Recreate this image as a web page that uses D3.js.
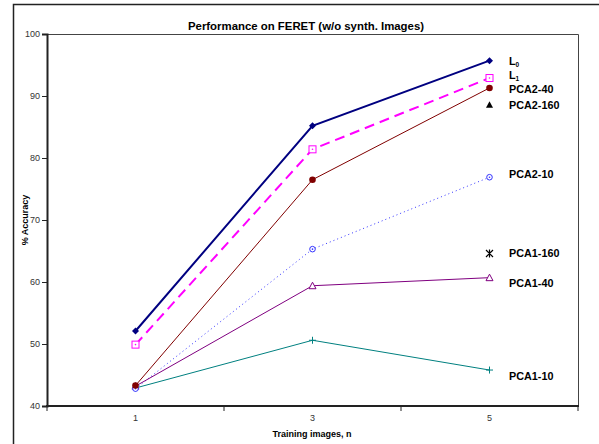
<!DOCTYPE html>
<html>
<head>
<meta charset="utf-8">
<script src="https://cdn.jsdelivr.net/npm/d3@7"></script>
<style>
  body { margin: 0; background: #fff; }
  text { font-family: "Liberation Sans", Arial, sans-serif; }
</style>
</head>
<body>
<svg id="chart" width="599" height="444"></svg>
<script>
// categories on the x axis
var trainingImages = ["1", "3", "5"];
var yTicks = [40, 50, 60, 70, 80, 90, 100];

// series values, null where no point was plotted
var seriesNames = ["L0", "L1", "PCA2-40", "PCA2-160", "PCA2-10", "PCA1-160", "PCA1-40", "PCA1-10"];
var L0      = [52.1, 85.2, 95.7];
var L1      = [49.9, 81.4, 92.9];
var pca2_40 = [43.3, 76.5, 91.3];
var pca2_160 = [null, null, 88.6];
var pca2_10 = [42.8, 65.3, 76.9];
var pca1_160 = [null, null, 64.6];
var pca1_40 = [43.2, 59.4, 60.7];
var pca1_10 = [42.9, 50.6, 45.8];

var allValues = [L0, L1, pca2_40, pca2_160, pca2_10, pca1_160, pca1_40, pca1_10];

// looks
var styles = [
  {color: "#000080", width: 2,   dash: null,   marker: "diamondFill"},
  {color: "#ff00ff", width: 2,   dash: "10,6", marker: "squareOpen"},
  {color: "#800000", width: 1,   dash: null,   marker: "circleFill"},
  {color: "#000000", width: 1,   dash: null,   marker: "triangleFill"},
  {color: "#3333ff", width: 1,   dash: "1,3",  marker: "circleOpen"},
  {color: "#000000", width: 1,   dash: null,   marker: "asterisk"},
  {color: "#800080", width: 1,   dash: null,   marker: "triangleOpen"},
  {color: "#008080", width: 1,   dash: null,   marker: "plus"}
];
var labelDy = [0, -3, 1, 0, -3, 0, 5, 6];

var svg = d3.select("#chart");
var margin = {left: 47, top: 34, right: 578, bottom: 406};

// outer chart border
svg.append("rect")
  .attr("x", 13.5).attr("y", 4.5)
  .attr("width", 620).attr("height", 460)
  .attr("fill", "none").attr("stroke", "#222").attr("stroke-width", 1.5);

var x = d3.scaleBand().domain(trainingImages).range([margin.left, margin.right]);
var y = d3.scaleLinear().domain([40, 100]).range([margin.bottom, margin.top]);
function cx(i) { return x(trainingImages[i]) + x.bandwidth() / 2; }

// plot area top/right border
svg.append("path")
  .attr("d", "M" + margin.left + "," + (margin.top + 0.5) + "H" + (margin.right + 0.5) + "V" + margin.bottom)
  .attr("fill", "none").attr("stroke", "#444").attr("stroke-width", 1);

// y axis
var yAxis = svg.append("g")
  .attr("transform", "translate(" + margin.left + ",0)")
  .call(d3.axisLeft(y).tickValues(yTicks).tickSize(5).tickPadding(2));
yAxis.select(".domain").attr("stroke", "#222").attr("stroke-width", 2);
yAxis.selectAll(".tick line").attr("stroke", "#222");
yAxis.selectAll("text").attr("font-size", 9).attr("fill", "#333").attr("font-family", "Liberation Sans, Arial, sans-serif");

// x axis (category ticks between bands)
var xAxisG = svg.append("g").attr("transform", "translate(0," + margin.bottom + ")");
xAxisG.append("line")
  .attr("x1", margin.left - 1).attr("x2", margin.right + 1)
  .attr("stroke", "#222").attr("stroke-width", 2);
var edges = trainingImages.map(function(d) { return x(d); }).concat([margin.right]);
xAxisG.selectAll(".edge").data(edges).enter().append("line")
  .attr("x1", function(d) { return d; }).attr("x2", function(d) { return d; })
  .attr("y1", 0).attr("y2", 5).attr("stroke", "#222");
xAxisG.selectAll(".lbl").data(trainingImages).enter().append("text")
  .attr("x", function(d) { return x(d) + x.bandwidth() / 2; })
  .attr("y", 15)
  .attr("text-anchor", "middle").attr("font-size", 9).attr("fill", "#333")
  .text(function(d) { return d; });

// titles
svg.append("text").attr("x", 306).attr("y", 30).attr("text-anchor", "middle")
  .attr("font-size", 11.4).attr("font-weight", "bold").text("Performance on FERET (w/o synth. Images)");
svg.append("text").attr("x", 312).attr("y", 437).attr("text-anchor", "middle")
  .attr("font-size", 9).attr("font-weight", "bold").text("Training images, n");
svg.append("text").attr("transform", "translate(28,220) rotate(-90)").attr("text-anchor", "middle")
  .attr("font-size", 9).attr("font-weight", "bold").text("% Accuracy");

// lines
var line = d3.line()
  .defined(function(d) { return d != null; })
  .x(function(d, i) { return cx(i); })
  .y(function(d) { return y(d); });

allValues.forEach(function(vals, s) {
  var st = styles[s];
  if (vals.filter(function(v) { return v != null; }).length > 1) {
    svg.append("path").datum(vals)
      .attr("d", line)
      .attr("fill", "none")
      .attr("stroke", st.color)
      .attr("stroke-width", st.width)
      .attr("stroke-dasharray", st.dash);
  }
});

function drawMarker(g, type, color) {
  if (type === "diamondFill") {
    g.append("path").attr("d", "M0,-3.5L3.5,0L0,3.5L-3.5,0Z").attr("fill", color);
  } else if (type === "squareOpen") {
    g.append("rect").attr("x", -3.5).attr("y", -3.5).attr("width", 7).attr("height", 7)
      .attr("fill", "#fff").attr("stroke", color).attr("stroke-width", 1);
    g.append("circle").attr("r", 0.8).attr("fill", color);
  } else if (type === "circleFill") {
    g.append("circle").attr("r", 3.3).attr("fill", color);
  } else if (type === "triangleFill") {
    g.append("path").attr("d", "M0,-3.5L3.5,3L-3.5,3Z").attr("fill", color);
  } else if (type === "circleOpen") {
    g.append("circle").attr("r", 2.8).attr("fill", "#fff").attr("stroke", color).attr("stroke-width", 1);
    g.append("circle").attr("r", 0.8).attr("fill", color);
  } else if (type === "asterisk") {
    g.append("path").attr("d", "M0,-4V4M-3.5,-3.5L3.5,3.5M-3.5,3.5L3.5,-3.5")
      .attr("stroke", color).attr("stroke-width", 1.2);
  } else if (type === "triangleOpen") {
    g.append("path").attr("d", "M0,-3.5L3.5,3L-3.5,3Z").attr("fill", "#fff")
      .attr("stroke", color).attr("stroke-width", 1);
  } else if (type === "plus") {
    g.append("path").attr("d", "M0,-3.5V3.5M-3.5,0H3.5").attr("stroke", color).attr("stroke-width", 1);
  }
}

// markers, drawn bottom series first so upper ones sit on top
for (var s = allValues.length - 1; s >= 0; s--) {
  allValues[s].forEach(function(v, i) {
    if (v == null) return;
    var g = svg.append("g").attr("transform", "translate(" + cx(i) + "," + y(v) + ")");
    drawMarker(g, styles[s].marker, styles[s].color);
  });
}

// series labels at the right end
allValues.forEach(function(vals, s) {
  var last = vals[vals.length - 1];
  var t = svg.append("text")
    .attr("x", 509).attr("y", y(last) + labelDy[s] + 4)
    .attr("font-size", 10.8).attr("font-weight", "bold").attr("fill", "#000");
  var name = seriesNames[s];
  if (name === "L0" || name === "L1") {
    t.append("tspan").text("L");
    t.append("tspan").attr("font-size", 6.5).attr("dy", 2).text(name.slice(1));
  } else {
    t.text(name);
  }
});
</script>
</body>
</html>
